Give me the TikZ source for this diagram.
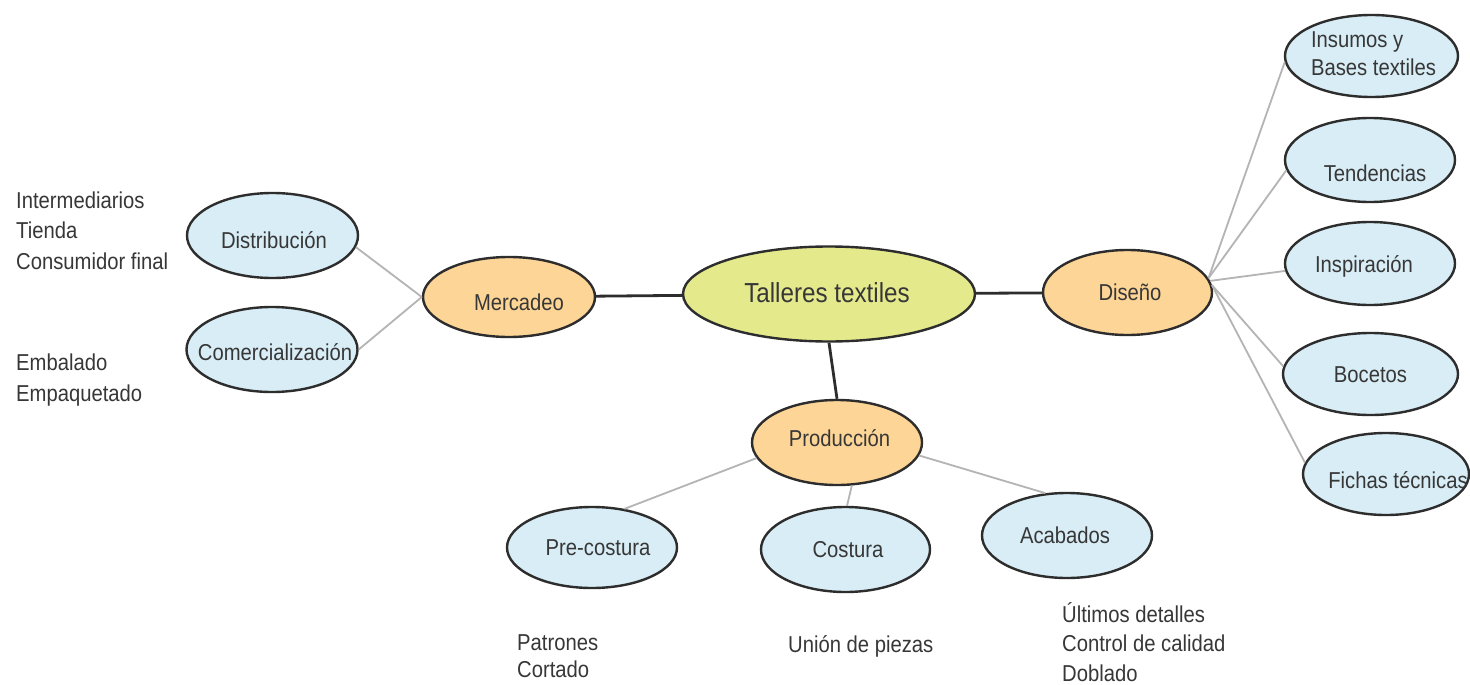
\documentclass[tikz,border=0pt]{standalone}
\usepackage{fontspec}
\setmainfont{Liberation Sans}[FakeStretch=0.88]
\usetikzlibrary{shapes.geometric}
\definecolor{leafblue}{RGB}{216,237,245}
\definecolor{midorange}{RGB}{253,213,150}
\definecolor{rootgreen}{RGB}{228,233,140}
\definecolor{edgedark}{RGB}{45,45,45}
\definecolor{txtgray}{RGB}{55,55,55}
\definecolor{thingray}{RGB}{180,180,180}
\newcommand\inell[3]{\makebox[0pt]{\hspace*{#1}\raisebox{#2}{#3}}}
\begin{document}
\begin{tikzpicture}[x=1pt,y=-1pt,
  bub/.style={ellipse, draw=edgedark, line width=2.4pt, inner sep=0pt, text=txtgray,
    text height=16pt, text depth=0pt, font=\fontsize{23}{28}\selectfont},
  leaf/.style={bub, fill=leafblue},
  mid/.style={bub, fill=midorange},
  root/.style={bub, fill=rootgreen, font=\fontsize{27.5}{32}\selectfont, text height=19pt},
  sz/.style 2 args={minimum width=#1pt, minimum height=#2pt},
  note/.style={inner sep=0pt, anchor=west, align=left, text=txtgray, font=\fontsize{23}{30.5}\selectfont},
  mainline/.style={draw=edgedark, line width=2.8pt},
  branch/.style={draw=thingray, line width=1.8pt}
]
\useasboundingbox[fill=white] (0,0) rectangle (1470,685);

% nodes
\node[root, sz={292}{95}] (tal) at (829,294) {\inell{-4pt}{1pt}{Talleres textiles}};
\node[mid, sz={172}{80}] (mer) at (509,297) {\inell{20pt}{-5pt}{Mercadeo}};
\node[mid, sz={169}{85}] (dis) at (1127.5,292.5) {\inell{5pt}{0pt}{Diseño}};
\node[mid, sz={170}{85}] (pro) at (837,442.5) {\inell{5pt}{4pt}{Producción}};

\node[leaf, sz={171}{85}] (dist) at (272.5,235.5) {\inell{3pt}{-5pt}{Distribución}};
\node[leaf, sz={171}{85}] (com) at (272,349.5) {\inell{6pt}{-3pt}{Comercialización}};

\node[leaf, sz={170}{81}] (pre) at (592,547.5) {\inell{12pt}{0pt}{Pre-costura}};
\node[leaf, sz={169}{85}] (cos) at (845.5,549.5) {\inell{5pt}{0pt}{Costura}};
\node[leaf, sz={170}{85}] (aca) at (1067,535.5) {\inell{-4pt}{0pt}{Acabados}};

\node[leaf, sz={173}{82}] (ins) at (1371.5,56) {\inell{4pt}{2pt}{\begin{tabular}{@{}l@{}}Insumos y\\Bases textiles\end{tabular}}};
\node[leaf, sz={170}{84}] (ten) at (1370,160) {\inell{10pt}{-13pt}{Tendencias}};
\node[leaf, sz={170}{83}] (insp) at (1370,263.5) {\inell{-12pt}{-1pt}{Inspiración}};
\node[leaf, sz={175}{82}] (boc) at (1370.5,374) {\inell{0pt}{0pt}{Bocetos}};
\node[leaf, sz={166}{82}] (fic) at (1386,474) {\inell{24pt}{-6pt}{Fichas técnicas}};

% connectors
\draw[mainline] (mer) -- (tal);
\draw[mainline] (tal) -- (dis);
\draw[mainline] (tal.south) -- (pro.north);

\draw[branch] (dist.-8) -- (mer.west);
\draw[branch] (com.east) -- (mer.west);

\draw[branch] (dis.10) -- (ins.184);
\draw[branch] (dis.10) -- (ten.187);
\draw[branch] (dis.8) -- (insp.185);
\draw[branch] (dis.5) -- (boc.175);
\draw[branch] (dis.5) -- (fic.172);

\draw[branch] (pro.191) -- (pre.50);
\draw[branch] (pro.-71) -- (cos.88);
\draw[branch] (pro.-9) -- (aca.117);

% side notes
\node[note] (nd) at (16,230.5) {Intermediarios\\Tienda\\Consumidor final};
\node[note] (nc) at (16,380) {Embalado\\Empaquetado};
\node[note, font=\fontsize{23}{27}\selectfont] (np) at (517,656) {Patrones\\Cortado};
\node[note] (nu) at (788,646) {Unión de piezas};
\node[note, font=\fontsize{23}{29.5}\selectfont] (na) at (1062,642) {Últimos detalles\\Control de calidad\\Doblado};
\end{tikzpicture}
\end{document}
